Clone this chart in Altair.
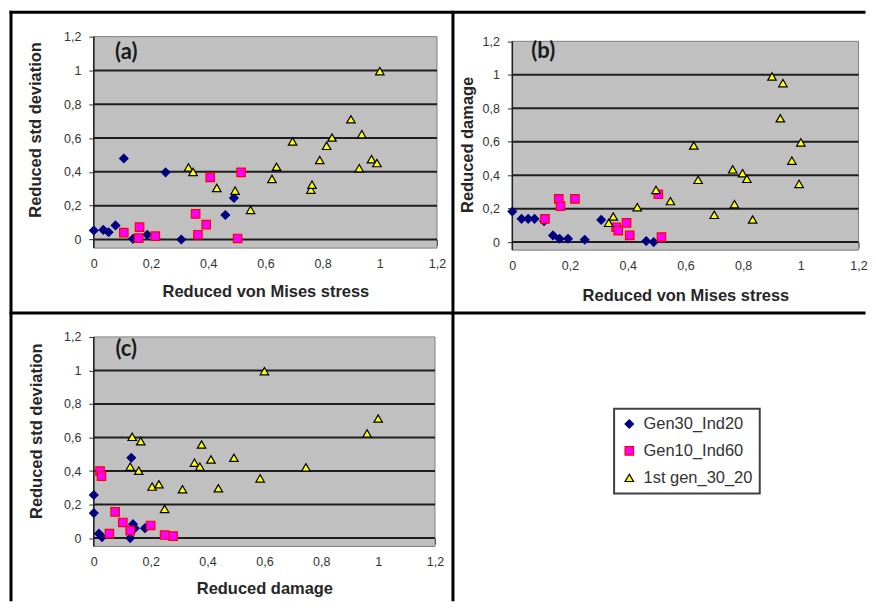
import altair as alt
import pandas as pd

SERIES = ["Gen30_Ind20", "Gen10_Ind60", "1st gen_30_20"]
SHAPES = ["diamond", "square", "triangle-up"]
FILLS = ["#000080", "#ff00ff", "#ffff00"]
STROKES = ["#000080", "#ff0000", "#000000"]
TICKS = [0, 0.2, 0.4, 0.6, 0.8, 1.0, 1.2]
GRID = [0, 0.2, 0.4, 0.6, 0.8, 1.0]

# ---- panel (a): reduced von Mises stress vs reduced std deviation
a_g30_x = [0.0, 0.033, 0.052, 0.076, 0.105, 0.137, 0.187, 0.251, 0.306, 0.46, 0.49]
a_g30_y = [0.053, 0.057, 0.043, 0.083, 0.479, 0.004, 0.028, 0.397, 0.0, 0.145, 0.246]
a_g10_x = [0.105, 0.16, 0.157, 0.215, 0.356, 0.364, 0.393, 0.407, 0.515, 0.503]
a_g10_y = [0.041, 0.073, 0.008, 0.02, 0.151, 0.028, 0.088, 0.367, 0.397, 0.006]
a_1st_x = [0.331, 0.347, 0.43, 0.494, 0.548, 0.623, 0.639, 0.695, 0.759, 0.763,
           0.79, 0.814, 0.833, 0.899, 0.937, 0.928, 0.971, 0.99, 1.0]
a_1st_y = [0.426, 0.40, 0.305, 0.289, 0.175, 0.358, 0.43, 0.58, 0.295, 0.324,
           0.47, 0.554, 0.603, 0.711, 0.623, 0.422, 0.475, 0.452, 0.996]

# ---- panel (b): reduced von Mises stress vs reduced damage
b_g30_x = [0.0, 0.032, 0.055, 0.077, 0.11, 0.141, 0.164, 0.193, 0.251, 0.308, 0.464, 0.49]
b_g30_y = [0.183, 0.139, 0.139, 0.139, 0.125, 0.04, 0.02, 0.02, 0.014, 0.133, 0.006, 0.0]
b_g10_x = [0.113, 0.161, 0.167, 0.217, 0.36, 0.367, 0.396, 0.407, 0.506, 0.517]
b_g10_y = [0.139, 0.258, 0.215, 0.258, 0.089, 0.068, 0.115, 0.04, 0.286, 0.03]
b_1st_x = [0.334, 0.35, 0.433, 0.498, 0.548, 0.629, 0.644, 0.7, 0.764, 0.77,
           0.798, 0.813, 0.833, 0.9, 0.938, 0.929, 0.969, 1.0, 0.994]
b_1st_y = [0.115, 0.153, 0.209, 0.312, 0.245, 0.577, 0.372, 0.163, 0.435, 0.227,
           0.412, 0.378, 0.135, 0.99, 0.95, 0.74, 0.487, 0.596, 0.348]

# ---- panel (c): reduced damage vs reduced std deviation
c_g30_x = [0.0, 0.0, 0.018, 0.029, 0.132, 0.138, 0.144, 0.128, 0.18]
c_g30_y = [0.257, 0.149, 0.026, 0.006, 0.479, 0.083, 0.059, 0.0, 0.059]
c_g10_x = [0.022, 0.027, 0.055, 0.075, 0.102, 0.128, 0.2, 0.249, 0.279]
c_g10_y = [0.4, 0.37, 0.026, 0.156, 0.093, 0.044, 0.075, 0.018, 0.012]
c_1st_x = [0.135, 0.165, 0.128, 0.158, 0.205, 0.229, 0.249, 0.312, 0.354, 0.373,
           0.379, 0.412, 0.438, 0.493, 0.585, 0.6, 0.746, 0.961, 1.0]
c_1st_y = [0.604, 0.578, 0.426, 0.402, 0.307, 0.321, 0.174, 0.291, 0.45, 0.426,
           0.558, 0.469, 0.297, 0.479, 0.356, 0.996, 0.422, 0.624, 0.713]


def series_df(xs_list, ys_list):
    rows = []
    for name, xs, ys in zip(SERIES, xs_list, ys_list):
        for x, y in zip(xs, ys):
            rows.append({"series": name, "x": x, "y": y})
    return pd.DataFrame(rows)


LABEL_EXPR = "replace(toString(round(datum.value*10)/10), '.', ',')"
FONT = "Liberation Sans"


def make_legend():
    return alt.Legend(title=None, orient="none", legendX=521.5, legendY=373,
                      labelFont=FONT, labelFontSize=16.5, labelColor="#333333",
                      padding=7, rowPadding=10, labelOffset=6, symbolSize=72,
                      symbolStrokeWidth=1.2, strokeColor="#404040", fillColor="white")


def panel(df, w, h, ydom, gray_lo, xtitle, ytitle, xoff, ytx, yty, xty, tag, tagx, tagy, extra=()):
    xs = alt.Scale(domain=[0, 1.2], nice=False, zero=False)
    ys = alt.Scale(domain=ydom, nice=False, zero=False)
    xaxis = alt.Axis(values=TICKS, labelExpr=LABEL_EXPR, grid=False, domain=False,
                     tickSize=6, tickColor="#333333", tickWidth=1, offset=xoff,
                     labelFont=FONT, labelFontSize=12.5, labelColor="#333333",
                     labelPadding=12, labelFlush=False, labelOverlap=False,
                     title=xtitle, titleFont=FONT, titleFontSize=16.5, titleFontWeight="bold",
                     titleColor="#262626", titleY=xty, titleBaseline="middle")
    yaxis = alt.Axis(values=TICKS, labelExpr=LABEL_EXPR, grid=False, domain=False,
                     tickSize=5, tickColor="#333333", tickWidth=1,
                     labelFont=FONT, labelFontSize=12.5, labelColor="#333333",
                     labelPadding=8, labelFlush=False, labelOverlap=False,
                     title=ytitle, titleFont=FONT, titleFontSize=16.5, titleFontWeight="bold",
                     titleColor="#262626", titleX=ytx, titleY=yty, titleAngle=270,
                     titleAlign="center", titleBaseline="middle")
    one = pd.DataFrame({"x0": [0.0], "x1": [1.2], "y0": [gray_lo], "y1": [1.2]})
    X = lambda f: alt.X(f, type="quantitative", scale=xs, axis=xaxis)
    Y = lambda f: alt.Y(f, type="quantitative", scale=ys, axis=yaxis)

    bg = alt.Chart(one).mark_rect(fill="#c0c0c0", stroke="#808080", strokeWidth=1).encode(
        x=X("x0"), x2="x1", y=Y("y0"), y2="y1")
    grid = alt.Chart(pd.DataFrame({"gy": GRID})).mark_rule(color="#1e1e1e", strokeWidth=2).encode(
        y=Y("gy"))
    yline = alt.Chart(one).mark_rule(color="#1e1e1e", strokeWidth=1.5).encode(
        x=X("x0"), y=Y("y0"), y2="y1")
    pts = alt.Chart(df).mark_point(filled=True, size=72, strokeWidth=1.2, opacity=1).encode(
        x=X("x"), y=Y("y"),
        shape=alt.Shape("series:N", scale=alt.Scale(domain=SERIES, range=SHAPES), legend=make_legend()),
        fill=alt.Fill("series:N", scale=alt.Scale(domain=SERIES, range=FILLS), legend=make_legend()),
        stroke=alt.Stroke("series:N", scale=alt.Scale(domain=SERIES, range=STROKES), legend=make_legend()),
    )
    lab = alt.Chart(pd.DataFrame({"t": [tag]})).mark_text(
        font="Lato", fontSize=22, fontWeight="bold", color="#1a1a1a",
        align="center", baseline="middle").encode(
        x=alt.value(tagx), y=alt.value(tagy), text="t:N")
    return alt.layer(bg, grid, yline, pts, lab, *extra).properties(width=w, height=h)


dummy = pd.DataFrame({"k": [0]})
border_specs = [
    dict(x=alt.value(-84.5), x2=alt.value(773.5), y=alt.value(-24.5)),
    dict(x=alt.value(-83), y=alt.value(-26), y2=alt.value(566)),
    dict(x=alt.value(360), y=alt.value(-26), y2=alt.value(566)),
    dict(x=alt.value(-84.5), x2=alt.value(773.5), y=alt.value(277)),
]
borders = [alt.Chart(dummy).mark_rule(color="black", strokeWidth=3).encode(**s) for s in border_specs]

pa = panel(series_df([a_g30_x, a_g10_x, a_1st_x], [a_g30_y, a_g10_y, a_1st_y]),
           344, 214, [-0.063, 1.2], -0.051,
           "Reduced von Mises stress", "Reduced std deviation",
           -10.7, -58.5, 93, 52.3, "(a)", 32.5, 15, extra=borders)
pb = panel(series_df([b_g30_x, b_g10_x, b_1st_x], [b_g30_y, b_g10_y, b_1st_y]),
           347, 214, [-0.048, 1.228], -0.048,
           "Reduced von Mises stress", "Reduced damage",
           -8.1, -45, 108, 54, "(b)", 31, 14.5)
pc = panel(series_df([c_g30_x, c_g10_x, c_1st_x], [c_g30_y, c_g10_y, c_1st_y]),
           342, 210, [-0.05, 1.2], -0.05,
           "Reduced damage", "Reduced std deviation",
           -8.4, -57.5, 94, 50.5, "(c)", 32.5, 12.5)

chart = alt.concat(pa, pb, pc, columns=2, spacing={"row": 87, "column": 75.5},
                   bounds="flush").properties(padding=0).configure_view(
    stroke=None).configure_legend(strokeWidth=2)

chart.save("out.html", embed_options={"renderer": "svg", "actions": False})
